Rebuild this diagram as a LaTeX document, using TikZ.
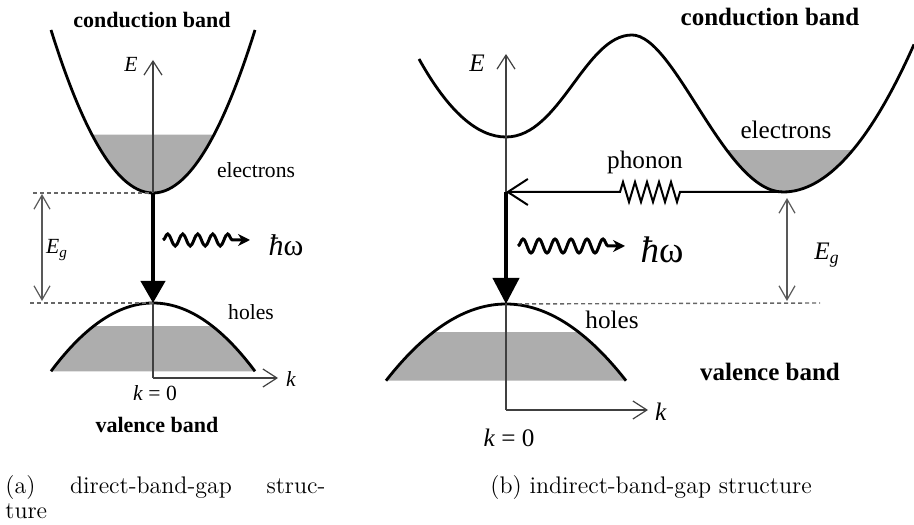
\documentclass[tikz,border=0pt]{standalone}
\usepackage{fontspec}
\newfontfamily\figfont{Liberation Serif}
\usetikzlibrary{arrows.meta,decorations.pathmorphing,positioning}

\begin{document}
\begin{tikzpicture}[x=0.5pt,y=0.5pt]
% définition des styles
\tikzstyle{bande}=[line width=1.4pt, color=black]
\tikzstyle{remplissage}=[fill=black!32]
\tikzstyle{axe}=[line width=0.6pt, color=black!75, -{Straight Barb[length=7pt,width=9pt]}]
\tikzstyle{ecart}=[line width=0.6pt, color=black!65, {Straight Barb[length=7pt,width=8pt]}-{Straight Barb[length=7pt,width=8pt]}]
\tikzstyle{niveau}=[line width=0.7pt, color=black!60, dash pattern=on 2pt off 1.5pt]
\tikzstyle{transition}=[line width=2pt, -{Triangle[length=11pt,width=12pt]}]
\tikzstyle{photon}=[line width=1.5pt, decorate, decoration={snake, amplitude=3pt, segment length=7.5pt, post length=6pt}, -{Stealth[length=6pt,width=6pt]}]
\tikzstyle{phonon}=[line width=1pt, decorate, decoration={zigzag, amplitude=5pt, segment length=6pt, pre length=51.5pt, post length=57pt}, -{Straight Barb[length=10pt,width=13pt]}]
\tikzstyle{texteA}=[font=\figfont\fontsize{10.8}{13}\selectfont]
\tikzstyle{texteB}=[font=\figfont\fontsize{12.6}{15}\selectfont]
\tikzstyle{titreA}=[font=\figfont\bfseries\fontsize{11}{13}\selectfont]
\tikzstyle{titreB}=[font=\figfont\bfseries\fontsize{12.5}{15}\selectfont]
\tikzstyle{legende}=[font=\fontsize{12}{14}\selectfont, inner sep=0pt]

\useasboundingbox (0,0) rectangle (914,524);

% (a) les points
\coordinate (O1) at (153,146);
\coordinate (E1) at (153,464);
\coordinate (k1) at (278,146);
\coordinate (fondC1) at (153,331);
\coordinate (sommetV1) at (153,221);

% (a) les bandes
\fill[remplissage] plot[domain=-61:61, samples=40] ({153+\x},{331+0.01567*\x*\x}) -- cycle;
\draw[bande] plot[domain=-102:102, samples=60, smooth] ({153+\x},{331+0.01567*\x*\x});
\begin{scope}
\clip (40,150) rectangle (270,197);
\fill[remplissage] plot[domain=-102:102, samples=40] ({153+\x},{221-0.006568*\x*\x}) -- cycle;
\end{scope}
\draw[bande] plot[domain=-102:102, samples=60, smooth] ({153+\x},{221-0.006568*\x*\x});

% (a) les nœuds
\node[titreA] (cb1) at (152,504) {conduction band};
\node[titreA] (vb1) at (157,99) {valence band};
\node[texteA] (el1) at (256,354) {electrons};
\node[texteA] (ho1) at (251,212) {holes};
\node[texteA] (lE1) at (131,460) {\textit{E}};
\node[texteA] (lk1) at (291,145) {\textit{k}};
\node[texteA] (lk01) at (155,131) {\textit{k} = 0};
\node[texteA] (lg1) at (57,274) {\textit{E}\textsubscript{\textit{g}}};
\node[font=\figfont\fontsize{15}{17}\selectfont, inner sep=1pt] (hw1) at (286,279) {\textit{ħ}ω};
\coordinate (g1h) at (33,331);
\coordinate (g1b) at (30,221);
\coordinate (eg1h) at (42,330);
\coordinate (eg1b) at (42,223);
\coordinate (ph1) at (163,284);
\coordinate (ph1f) at (250,284);

% (a) les flèches
\draw[axe] (O1) -- (E1);
\draw[axe] (O1) -- (k1);
\draw[niveau] (g1h) -- (fondC1);
\draw[niveau] (g1b) -- (sommetV1);
\draw[ecart] (eg1h) -- (eg1b);
\draw[transition] (fondC1) -- (sommetV1);
\draw[photon] (ph1) -- (ph1f);

% (b) les points
\coordinate (O2) at (506,114);
\coordinate (E2) at (506,470);
\coordinate (k2) at (648,114);
\coordinate (fondC2) at (783,332);
\coordinate (coin) at (506,332);
\coordinate (sommetV2) at (506,220);

% (b) les bandes
\begin{scope}
\clip (632,489) .. controls (675,489) and (725,332) .. (783,332) .. controls (826.7,332) and (870.3,381.2) .. (914,479.6) -- (914,500) -- (632,500) -- cycle;
\fill[remplissage] (700,320) rectangle (910,374);
\end{scope}
\draw[bande] (419,465) .. controls (448,413) and (477,387) .. (506,387)
  .. controls (560,387) and (585,489) .. (632,489)
  .. controls (675,489) and (725,332) .. (fondC2)
  .. controls (826.7,332) and (870.3,381.2) .. (914,479.6);
\begin{scope}
\clip (370,130) rectangle (640,191);
\fill[remplissage] plot[domain=-120:120, samples=40] ({506+\x},{220-0.00533*\x*\x}) -- cycle;
\end{scope}
\draw[bande] plot[domain=-120:120, samples=60, smooth] ({506+\x},{220-0.00533*\x*\x});

% (b) les nœuds
\node[titreB] (cb2) at (770,507) {conduction band};
\node[titreB] (vb2) at (770,152) {valence band};
\node[texteB] (el2) at (786,394) {electrons};
\node[texteB] (ho2) at (612,204) {holes};
\node[texteB] (pn2) at (645,362) {phonon};
\node[texteB] (lE2) at (477,461) {\textit{E}};
\node[texteB] (lk2) at (661,112) {\textit{k}};
\node[texteB] (lk02) at (509,86) {\textit{k} = 0};
\node[texteB] (lg2) at (827,269) {\textit{E}\textsubscript{\textit{g}}};
\node[font=\figfont\fontsize{18.5}{21}\selectfont, inner sep=1pt] (hw2) at (662,274) {\textit{ħ}ω};
\coordinate (g2) at (820,221);
\coordinate (eg2h) at (787,326);
\coordinate (eg2b) at (787,223);
\coordinate (ph2) at (518,278);
\coordinate (ph2f) at (625,278);

% (b) les flèches
\draw[axe] (O2) -- (E2);
\draw[axe] (O2) -- (k2);
\draw[niveau, shorten <=6pt] (sommetV2) -- (g2);
\draw[ecart] (eg2h) -- (eg2b);
\draw[phonon] (fondC2) -- (coin);
\draw[transition, -{Triangle[length=13pt,width=13pt]}] (coin) -- (sommetV2);
\draw[photon, decoration={snake, amplitude=3.5pt, segment length=8pt, post length=6pt}] (ph2) -- (ph2f);

% les légendes
\node[legende, anchor=base west] (capA) at (5,31) {\makebox[160pt][s]{(a) direct-band-gap struc-}};
\node[legende, anchor=base west] (capA2) at (5,6) {ture};
\node[legende, anchor=base west] (capB) at (490,31) {(b) indirect-band-gap structure};
\end{tikzpicture}
\end{document}
